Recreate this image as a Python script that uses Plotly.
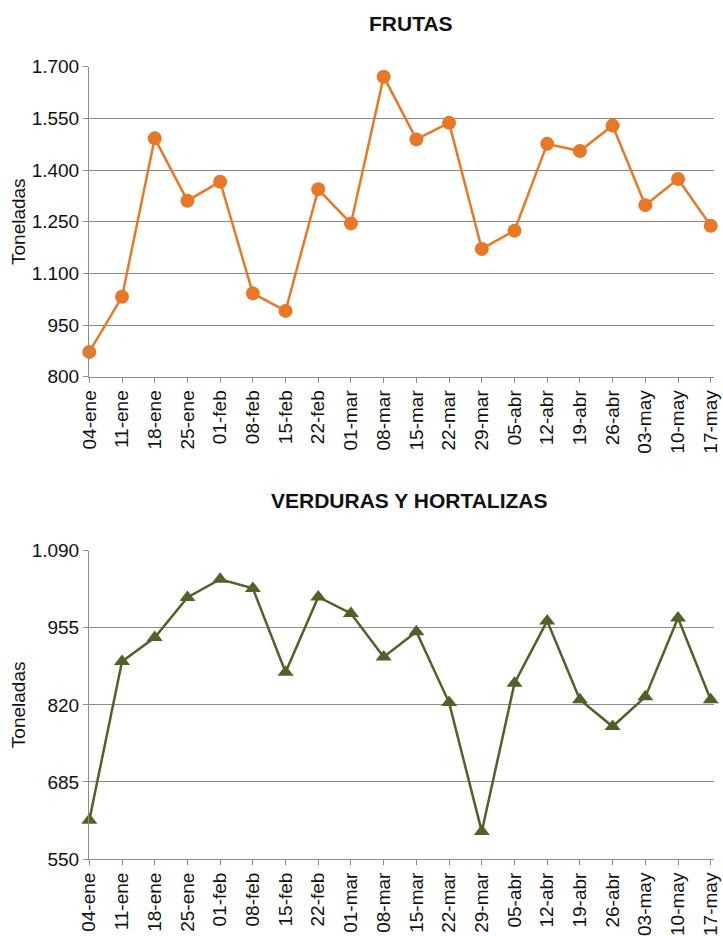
import plotly.graph_objects as go

fechas = ["04-ene", "11-ene", "18-ene", "25-ene", "01-feb", "08-feb", "15-feb", "22-feb",
          "01-mar", "08-mar", "15-mar", "22-mar", "29-mar", "05-abr", "12-abr", "19-abr",
          "26-abr", "03-may", "10-may", "17-may"]

frutas = [872, 1032, 1492, 1311, 1366, 1042, 991, 1344, 1245, 1671,
          1489, 1537, 1171, 1224, 1476, 1455, 1529, 1298, 1374, 1238]

verduras = [618, 896, 938, 1008, 1040, 1024, 877, 1009, 980, 904,
            948, 824, 598, 858, 967, 829, 782, 834, 972, 829]

ticks_frutas = [800, 950, 1100, 1250, 1400, 1550, 1700]
ticks_verduras = [550, 685, 820, 955, 1090]

W, H = 723, 936
FONT = "Liberation Sans, Arial, Helvetica, sans-serif"
ORANGE = "#E97826"
GREEN = "#4F6228"
GRID = "#8C8C8C"


def py(px):
    return 1 - px / H


fig = go.Figure()
fig.add_trace(go.Scatter(
    x=fechas, y=frutas, mode="lines+markers", xaxis="x", yaxis="y",
    line=dict(color=ORANGE, width=2.5),
    marker=dict(symbol="circle", size=14, color=ORANGE),
    showlegend=False, cliponaxis=False))
fig.add_trace(go.Scatter(
    x=fechas, y=verduras, mode="lines+markers", xaxis="x2", yaxis="y2",
    line=dict(color=GREEN, width=2.5),
    marker=dict(symbol="triangle-up", size=14, color=GREEN),
    showlegend=False, cliponaxis=False))

common_x = dict(
    type="category", range=[-0.01, 19.1], showgrid=False,
    showline=True, linecolor=GRID, linewidth=1,
    ticks="outside", ticklen=5, tickcolor=GRID, tickwidth=1,
    tickangle=-90, tickfont=dict(family=FONT, size=19, color="#111111"),
    zeroline=False, automargin=False,
)
common_y = dict(
    showgrid=True, gridcolor=GRID, gridwidth=1,
    showline=True, linecolor=GRID, linewidth=1,
    ticks="outside", ticklen=5, tickcolor=GRID, tickwidth=1,
    tickfont=dict(family=FONT, size=19, color="#111111"),
    tickformat=",d", zeroline=False, automargin=False,
    title=dict(text="Toneladas", font=dict(family=FONT, size=19, color="#111111"), standoff=0),
)

fig.update_layout(
    width=W, height=H,
    margin=dict(l=89, r=9, t=0, b=0, autoexpand=False),
    paper_bgcolor="white", plot_bgcolor="white",
    separators=",.",
    xaxis=dict(common_x, domain=[0, 1], anchor="y"),
    yaxis=dict(common_y, domain=[py(376.7), py(66.7)], range=[800, 1700],
               tickvals=ticks_frutas, anchor="x"),
    xaxis2=dict(common_x, domain=[0, 1], anchor="y2"),
    yaxis2=dict(common_y, domain=[py(859), py(550.7)], range=[550, 1090],
                tickvals=ticks_verduras, anchor="x2"),
    annotations=[
        dict(text="<b>FRUTAS</b>", xref="paper", yref="paper",
             x=(411 - 89) / (W - 89 - 9), y=py(23), xanchor="center", yanchor="middle",
             showarrow=False, font=dict(family=FONT, size=21, color="#111111")),
        dict(text="<b>VERDURAS Y HORTALIZAS</b>", xref="paper", yref="paper",
             x=(410 - 89) / (W - 89 - 9), y=py(500), xanchor="center", yanchor="middle",
             showarrow=False, font=dict(family=FONT, size=21, color="#111111")),
    ],
)

fig.write_html("out.html", config={"displayModeBar": False},
               post_script="document.body.style.margin='0';document.body.style.overflow='hidden';")
